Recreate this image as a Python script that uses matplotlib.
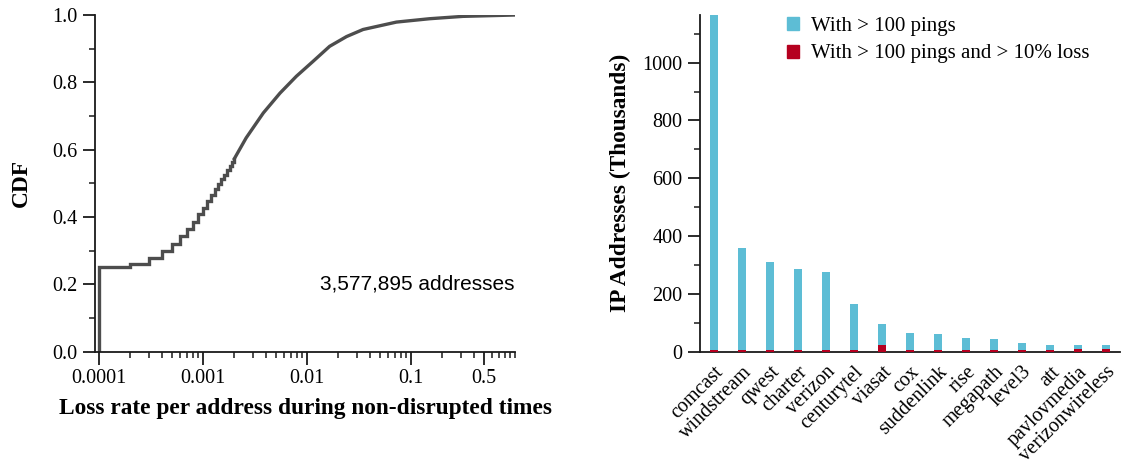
import numpy as np
import matplotlib
matplotlib.use('Agg')
import matplotlib.pyplot as plt
from matplotlib.patches import Patch
from matplotlib.ticker import FixedLocator, NullFormatter, MultipleLocator, FormatStrFormatter

plt.rcParams['font.family'] = ['Liberation Serif', 'DejaVu Serif']

# CDF of loss rate: stepped part (quantised low loss rates) and smooth part
step_loss = [0.0001, 0.0001, 0.0002, 0.0003, 0.0004, 0.0005, 0.0006, 0.0007,
             0.0008, 0.0009, 0.0010, 0.0011, 0.0012, 0.0013, 0.0014, 0.0015,
             0.0016, 0.0017, 0.0018, 0.0019, 0.0020]
step_cdf = [0.0, 0.25, 0.26, 0.278, 0.299, 0.32, 0.343, 0.365,
            0.386, 0.408, 0.428, 0.447, 0.465, 0.482, 0.498, 0.512,
            0.526, 0.539, 0.551, 0.562, 0.573]
smooth_loss = [0.0020, 0.0026, 0.0038, 0.0055, 0.0079, 0.0114, 0.0165,
               0.024, 0.0346, 0.0724, 0.151, 0.316, 1.0]
smooth_cdf = [0.573, 0.635, 0.709, 0.768, 0.818, 0.862, 0.907,
              0.936, 0.957, 0.979, 0.989, 0.996, 1.0]
n_addresses = '3,577,895 addresses'

# IP addresses per provider (thousands)
providers = ['comcast', 'windstream', 'qwest', 'charter', 'verizon',
             'centurytel', 'viasat', 'cox', 'suddenlink', 'rise', 'megapath',
             'level3', 'att', 'pavlovmedia', 'verizonwireless']
pings_100 = [1165, 360, 310, 287, 275, 164, 94, 63, 60, 46, 44, 29, 24, 23, 22]
pings_100_loss = [7, 5, 5, 5, 5, 5, 22, 5, 5, 5, 5, 5, 5, 9, 9]

cyan = '#5dbdd5'
red = '#b5001f'
fs = 14.5
lfs = 16.8

fig = plt.figure(figsize=(11.22, 4.65), dpi=100)
ax1 = fig.add_axes([0.0847, 0.244, 0.3743, 0.7237])
ax2 = fig.add_axes([0.6239, 0.244, 0.3743, 0.7237])

# ---- left: CDF
ax1.plot(step_loss, step_cdf, color='#4d4d4d', lw=2.4, drawstyle='steps-post',
         solid_joinstyle='miter')
ax1.plot(smooth_loss, smooth_cdf, color='#4d4d4d', lw=2.4)
ax1.set_xscale('log')
ax1.set_xlim(0.0000915, 1.0)
ax1.set_ylim(0, 1.0)
major = [0.0001, 0.001, 0.01, 0.1, 0.5]
ax1.xaxis.set_major_locator(FixedLocator(major))
ax1.set_xticklabels(['0.0001', '0.001', '0.01', '0.1', '0.5'])
minor = [m * d for d in [0.0001, 0.001, 0.01, 0.1] for m in range(2, 11)]
minor = [v for v in minor if v not in major and v <= 1.0]
ax1.xaxis.set_minor_locator(FixedLocator(minor))
ax1.xaxis.set_minor_formatter(NullFormatter())
ax1.yaxis.set_major_locator(MultipleLocator(0.2))
ax1.yaxis.set_minor_locator(MultipleLocator(0.1))
ax1.yaxis.set_major_formatter(FormatStrFormatter('%.1f'))
ax1.set_ylabel('CDF', fontsize=lfs, fontweight='bold', labelpad=15)
ax1.set_xlabel('Loss rate per address during non-disrupted times', fontsize=lfs,
               fontweight='bold', labelpad=7)
ax1.text(1.0, 0.2, n_addresses, transform=ax1.transAxes, ha='right', va='center',
         fontsize=15, family=['Liberation Sans', 'DejaVu Sans'])

# ---- right: bars
x = np.arange(len(providers))
ax2.bar(x, pings_100, width=0.26, color=cyan, zorder=2)
ax2.bar(x, pings_100_loss, width=0.26, color=red, zorder=3)
ax2.set_xlim(-0.5, 14.5)
ax2.set_ylim(0, max(pings_100))
ax2.yaxis.set_major_locator(MultipleLocator(200))
ax2.yaxis.set_minor_locator(MultipleLocator(100))
ax2.set_xticks(x)
ax2.set_xticklabels(providers, rotation=45, ha='right', rotation_mode='anchor')
ax2.set_ylabel('IP Addresses (Thousands)', fontsize=lfs, fontweight='bold', labelpad=8)
handles = [Patch(color=cyan), Patch(color=red)]
ax2.legend(handles, ['With > 100 pings', 'With > 100 pings and > 10% loss'],
           loc='upper left', bbox_to_anchor=(0.69, 0.99), bbox_transform=fig.transFigure,
           frameon=False, fontsize=15, handlelength=0.6, handleheight=0.6,
           handletextpad=0.55, labelspacing=0.4, borderaxespad=0.2)

for ax in (ax1, ax2):
    for s in ('top', 'right'):
        ax.spines[s].set_visible(False)
    for s in ('left', 'bottom'):
        ax.spines[s].set_linewidth(1.3)
        ax.spines[s].set_color('#1a1a1a')
    ax.tick_params(which='major', length=9, width=1.3, labelsize=fs, color='#1a1a1a')
    ax.tick_params(which='minor', length=4, width=1.1, color='#1a1a1a')
ax2.tick_params(axis='x', which='both', length=0, pad=8)

fig.savefig('out.png', dpi=100)
